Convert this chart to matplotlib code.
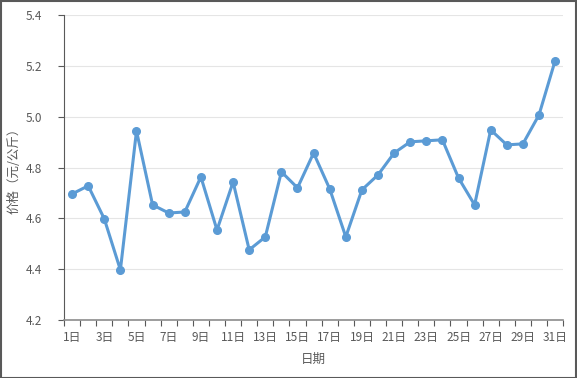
import matplotlib
matplotlib.use("Agg")
import matplotlib.pyplot as plt
from matplotlib.patches import Rectangle

plt.rcParams['font.family'] = ['Noto Sans CJK SC', 'DejaVu Sans']

days = [f"{i}日" for i in range(1, 32)]
prices = [4.696, 4.728, 4.598, 4.397, 4.944, 4.653, 4.621, 4.625, 4.763, 4.554,
          4.743, 4.476, 4.527, 4.783, 4.720, 4.857, 4.716, 4.527, 4.712, 4.771,
          4.857, 4.901, 4.905, 4.909, 4.759, 4.653, 4.948, 4.889, 4.893, 5.007,
          5.220]
yticks = [4.2, 4.4, 4.6, 4.8, 5.0, 5.2, 5.4]

fig = plt.figure(figsize=(5.77, 3.78), dpi=100)
fig.patches.append(Rectangle((0.001, 0.001), 0.997, 0.996, transform=fig.transFigure,
                             fill=False, edgecolor='#595959', linewidth=1.5))
ax = fig.add_axes([0.111, 0.1534, 0.865, 0.8069])

x = list(range(len(days)))
ax.plot(x, prices, color='#5B9BD5', linewidth=2.2, marker='o', markersize=5.5,
        markerfacecolor='#5B9BD5', markeredgecolor='#5B9BD5', zorder=3)

ax.set_xlim(-0.5, len(days) - 0.5)
ax.set_ylim(4.2, 5.4)
ax.set_yticks(yticks)
ax.set_yticklabels([f"{v:.1f}" for v in yticks])
ax.set_xticks([i + 0.5 for i in range(-1, len(days))], minor=False)
ax.set_xticklabels([])
ax.set_xticks(x[::2], minor=True)
ax.set_xticklabels(days[::2], minor=True)
ax.tick_params(axis='x', which='major', length=4, width=0.8, color='#595959', direction='out')
ax.tick_params(axis='x', which='minor', length=0, pad=8, labelsize=8.5, labelcolor='#595959')
ax.tick_params(axis='y', length=4, width=0.8, color='#595959', labelsize=8.5,
               labelcolor='#595959', pad=12)

ax.grid(axis='y', color='#E5E5E5', linewidth=0.8)
ax.set_axisbelow(True)
for s in ['top', 'right']:
    ax.spines[s].set_visible(False)
ax.spines['left'].set_color('#595959')
ax.spines['bottom'].set_color('#8C8C8C')
ax.spines['bottom'].set_linewidth(1.2)

ax.set_xlabel('日期', fontsize=9, color='#595959')
ax.set_ylabel('价格（元/公斤）', fontsize=9, color='#595959')
ax.xaxis.set_label_coords(0.5, -0.108)
ax.yaxis.set_label_coords(-0.088, 0.5)

fig.savefig('out.png', dpi=100)
